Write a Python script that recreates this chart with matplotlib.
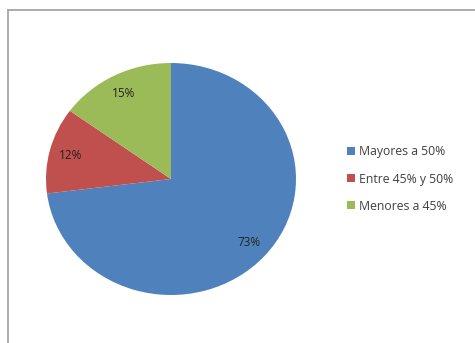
import matplotlib.pyplot as plt
from matplotlib.patches import Patch
from matplotlib.lines import Line2D

labels = ["Mayores a 50%", "Entre 45% y 50%", "Menores a 45%"]
values = [73, 12, 15]
colors = ["#4F81BD", "#C0504D", "#9BBB59"]

plt.rcParams['font.family'] = ['Open Sans', 'DejaVu Sans']

fig = plt.figure(figsize=(4.75, 3.43), dpi=100)
fig.patch.set_facecolor('white')

# chart frame (only top and left edges visible in the crop)
fig.add_artist(Line2D([8/475, 1], [1 - 10/343, 1 - 10/343], color='#a6a6a6', lw=1.3))
fig.add_artist(Line2D([8/475, 8/475], [0, 1 - 10/343], color='#a6a6a6', lw=1.3))

ax = fig.add_axes([46/475, 48/343, 250/475, 232/343])
wedges, texts, autotexts = ax.pie(values, colors=colors, startangle=90, counterclock=False,
                                  autopct='%d%%', pctdistance=0.83,
                                  textprops={'fontsize': 8.5, 'color': '#222222'})
ax.set_aspect('auto')
ax.set_xlim(-1, 1)
ax.set_ylim(-1, 1)

handles = [Patch(facecolor=c, edgecolor='none') for c in colors]
fig.legend(handles, labels, loc='center left', bbox_to_anchor=(336/475, 1 - 179/343),
           frameon=False, fontsize=8.8, handlelength=0.65, handleheight=0.65,
           handletextpad=0.35, labelspacing=1.15, labelcolor='#404040')

fig.savefig('out.png', dpi=100)
